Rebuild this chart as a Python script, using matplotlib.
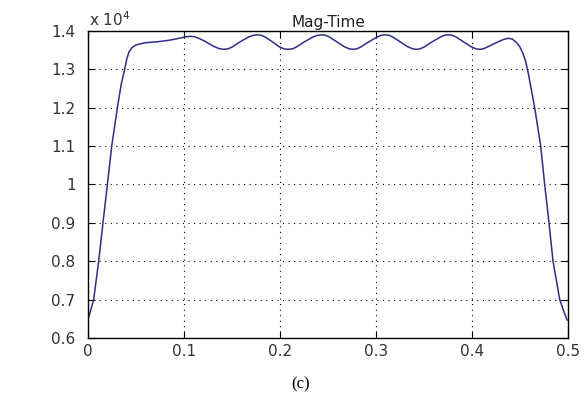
import matplotlib
matplotlib.use("Agg")
import matplotlib.pyplot as plt

# Magnitude vs time (magnitude in raw units)
t = [0.000, 0.002, 0.0059, 0.0111, 0.0156, 0.0202, 0.0247, 0.0306, 0.0345,
     0.0382, 0.0405, 0.0427, 0.046, 0.050, 0.055, 0.0608, 0.073, 0.085,
     0.095, 0.101, 0.106, 0.111, 0.116, 0.122, 0.130, 0.136, 0.141, 0.146,
     0.150, 0.158, 0.167, 0.172, 0.176, 0.180, 0.184, 0.192, 0.199, 0.204,
     0.208, 0.213, 0.217, 0.225, 0.234, 0.239, 0.243, 0.247, 0.251, 0.259,
     0.267, 0.272, 0.276, 0.280, 0.284, 0.292, 0.301, 0.305, 0.309, 0.313,
     0.317, 0.325, 0.333, 0.338, 0.342, 0.346, 0.350, 0.358, 0.367, 0.371,
     0.375, 0.379, 0.383, 0.391, 0.399, 0.404, 0.408, 0.412, 0.416, 0.424,
     0.432, 0.4375, 0.442, 0.4462, 0.4495, 0.453, 0.456, 0.459, 0.4653,
     0.4716, 0.4757, 0.4802, 0.4844, 0.4914, 0.4955, 0.499]
mag = [6500, 6650, 7000, 8000, 9000, 10000, 11000, 12000, 12600,
       13000, 13280, 13450, 13570, 13635, 13670, 13696, 13720, 13760,
       13810, 13845, 13860, 13850, 13800, 13730, 13610, 13545, 13520, 13535,
       13580, 13710, 13840, 13885, 13900, 13890, 13850, 13720, 13590, 13535,
       13520, 13535, 13580, 13710, 13840, 13885, 13900, 13890, 13850, 13720,
       13590, 13535, 13520, 13535, 13580, 13710, 13840, 13885, 13900, 13890,
       13850, 13720, 13590, 13535, 13520, 13535, 13580, 13710, 13840, 13885,
       13900, 13890, 13850, 13720, 13590, 13535, 13520, 13535, 13580, 13680,
       13770, 13810, 13790, 13700, 13600, 13420, 13200, 12850, 12000,
       11000, 10000, 9000, 8000, 7000, 6700, 6470]

xticks = [0, 0.1, 0.2, 0.3, 0.4, 0.5]
xticklabels = ["0", "0.1", "0.2", "0.3", "0.4", "0.5"]
yticks = [6000, 7000, 8000, 9000, 10000, 11000, 12000, 13000, 14000]
yticklabels = ["0.6", "0.7", "0.8", "0.9", "1", "1.1", "1.2", "1.3", "1.4"]

plt.rcParams["font.family"] = ["DejaVu Sans"]

fig = plt.figure(figsize=(5.84, 3.98), dpi=100)
ax = fig.add_axes([0.1507, 0.1508, 0.8219, 0.7714])

ax.plot(t, mag, color="#2e2e86", linewidth=1.1)

ax.set_xlim(0, 0.5)
ax.set_ylim(6000, 14000)
ax.set_xticks(xticks)
ax.set_xticklabels(xticklabels)
ax.set_yticks(yticks)
ax.set_yticklabels(yticklabels)
ax.tick_params(direction="in", length=5, width=0.8, labelsize=11,
               top=True, right=True, colors="black")
ax.tick_params(axis="x", pad=4)
ax.tick_params(axis="y", pad=9)
for lbl in ax.get_xticklabels() + ax.get_yticklabels():
    lbl.set_color("#333333")

ax.grid(True, linestyle=(0, (1, 4)), color="black", linewidth=0.8)
for s in ax.spines.values():
    s.set_linewidth(1.0)
    s.set_color("black")

ax.set_title("Mag-Time", fontsize=11, pad=3, color="#222222")
ax.text(0.003, 1.008, r"x 10$^4$", transform=ax.transAxes, fontsize=11,
        ha="left", va="bottom", color="#333333")

fig.text(0.515, 0.035, "(c)", fontsize=12, family="Liberation Serif",
         ha="center", va="center")

fig.savefig("out.png", dpi=100)
